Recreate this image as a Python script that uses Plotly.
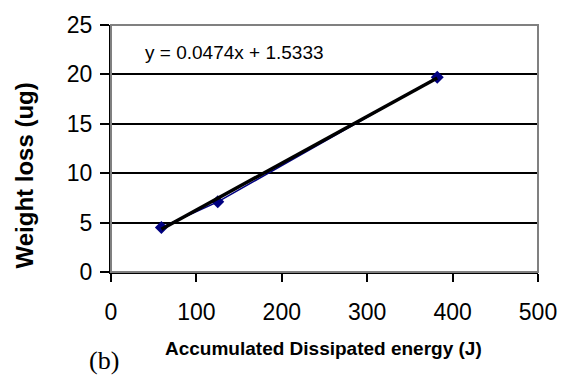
import plotly.graph_objects as go

# Data
energy_J = [59, 125, 382]
weight_loss_ug = [4.5, 7.1, 19.7]

# Trend line coefficients (from the equation label)
slope = 0.0474
intercept = 1.5333
trend_x = [min(energy_J), max(energy_J)]
trend_y = [slope * x + intercept for x in trend_x]

x_ticks = [0, 100, 200, 300, 400, 500]
y_ticks = [0, 5, 10, 15, 20, 25]

fig = go.Figure()
fig.add_trace(go.Scatter(
    x=energy_J, y=weight_loss_ug, mode="lines+markers",
    line=dict(color="#000080", width=1.5),
    marker=dict(symbol="diamond", size=10, color="#000080"),
    showlegend=False,
))
fig.add_trace(go.Scatter(
    x=trend_x, y=trend_y, mode="lines",
    line=dict(color="black", width=3.5),
    showlegend=False,
))

fig.update_layout(
    width=569, height=377,
    margin=dict(l=111, r=27, t=17, b=105),
    paper_bgcolor="white", plot_bgcolor="white",
    font=dict(family="Liberation Sans, Arial, sans-serif", color="black"),
    xaxis=dict(
        range=[0, 500], tickvals=x_ticks, showgrid=False, zeroline=False,
        showline=True, linecolor="black", linewidth=2,
        ticks="outside", ticklen=8, tickwidth=1.5, tickcolor="black",
        tickfont=dict(size=23), ticklabelstandoff=10,
    ),
    yaxis=dict(
        range=[0, 25], tickvals=y_ticks, showgrid=True, gridcolor="black",
        gridwidth=1.8, zeroline=False,
        showline=True, linecolor="black", linewidth=2,
        ticks="outside", ticklen=9, tickwidth=1.5, tickcolor="black",
        tickfont=dict(size=23), ticklabelstandoff=3,
    ),
    shapes=[dict(type="rect", xref="paper", yref="paper", x0=0, x1=1, y0=0, y1=1,
                 line=dict(color="#808080", width=2), layer="above")],
    annotations=[
        dict(text="y = 0.0474x + 1.5333", x=145, y=22.2, xref="x", yref="y",
             showarrow=False, font=dict(size=19), xanchor="center", yanchor="middle"),
        dict(text="<b>Weight loss (ug)</b>", xref="paper", yref="paper",
             x=-0.203, y=(272 - 172) / 255, textangle=-90, showarrow=False,
             font=dict(size=24), xanchor="center", yanchor="middle"),
        dict(text="<b>Accumulated Dissipated energy (J)</b>", xref="paper", yref="paper",
             x=0.497, y=-(351 - 272) / 255, showarrow=False,
             font=dict(size=19), xanchor="center", yanchor="middle"),
        dict(text="(b)", xref="paper", yref="paper",
             x=(104 - 111) / 431, y=-(363 - 272) / 255, showarrow=False,
             font=dict(size=26, family="Liberation Serif, Times New Roman, serif"),
             xanchor="center", yanchor="middle"),
    ],
)

fig.write_html("out.html")
